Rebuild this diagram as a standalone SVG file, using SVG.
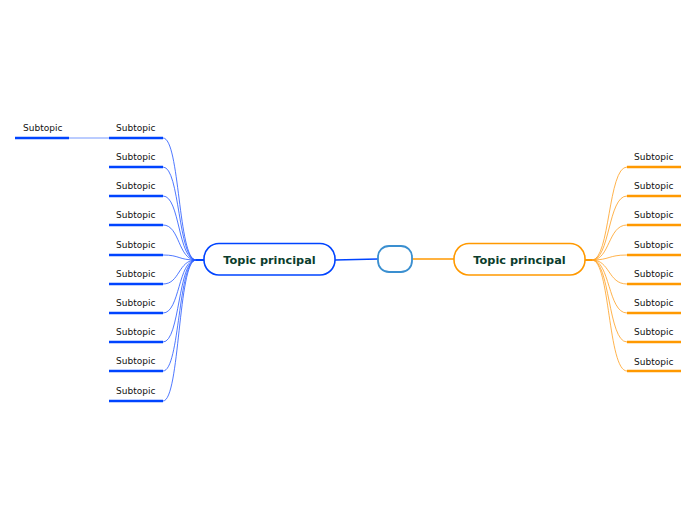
<svg xmlns="http://www.w3.org/2000/svg" width="696" height="520" viewBox="0 0 696 520">
<style>
.sub{font-family:"DejaVu Sans",sans-serif;font-size:9px;fill:#111}
.main{font-family:"DejaVu Sans",sans-serif;font-size:11.3px;font-weight:bold;fill:#0b3d2c}
.ub{stroke:#0044ff;stroke-width:2.5;fill:none}
.uo{stroke:#ff9900;stroke-width:2.5;fill:none}
.cb{stroke:#2255ff;stroke-width:0.8;fill:none}
.co{stroke:#ffa020;stroke-width:0.8;fill:none}
</style>
<rect width="696" height="520" fill="#fff"/>
<g id="connectors">
<path class="cb" d="M163,138 C180,138 178,260 196,260"/>
<path class="cb" d="M163,167 C180,167 178,260 196,260"/>
<path class="cb" d="M163,196 C180,196 178,260 196,260"/>
<path class="cb" d="M163,225 C180,225 178,260 196,260"/>
<path class="cb" d="M163,255 C180,255 178,260 196,260"/>
<path class="cb" d="M163,284 C180,284 178,260 196,260"/>
<path class="cb" d="M163,313 C180,313 178,260 196,260"/>
<path class="cb" d="M163,342 C180,342 178,260 196,260"/>
<path class="cb" d="M163,371 C180,371 178,260 196,260"/>
<path class="cb" d="M163,401 C180,401 178,260 196,260"/>
<path d="M196,260 L204,260" stroke="#0044ff" stroke-width="2"/>
<path d="M69,138 L109,138" stroke="#7799ff" stroke-width="1"/>
<path d="M335,260 L378,259" stroke="#0044ff" stroke-width="1.5"/>
<path d="M412,259 L454,259" stroke="#ff9900" stroke-width="1.5"/>
<path d="M585,260 L592,260" stroke="#ff9900" stroke-width="2"/>
<path class="co" d="M592,260 C610,260 608,167 627,167"/>
<path class="co" d="M592,260 C610,260 608,196 627,196"/>
<path class="co" d="M592,260 C610,260 608,225 627,225"/>
<path class="co" d="M592,260 C610,260 608,255 627,255"/>
<path class="co" d="M592,260 C610,260 608,284 627,284"/>
<path class="co" d="M592,260 C610,260 608,313 627,313"/>
<path class="co" d="M592,260 C610,260 608,342 627,342"/>
<path class="co" d="M592,260 C610,260 608,371 627,371"/>
</g>
<g id="center">
<rect x="378" y="246" width="34" height="26" rx="11" fill="#fff" stroke="#3a8fd0" stroke-width="1.8"/>
</g>
<g id="main-left">
<rect x="204" y="243.5" width="131" height="31.5" rx="15" fill="#fff" stroke="#0044ff" stroke-width="1.6"/>
<text class="main" x="269.5" y="264" text-anchor="middle">Topic principal</text>
</g>
<g id="main-right">
<rect x="454" y="243.5" width="131" height="31.5" rx="15" fill="#fff" stroke="#ff9900" stroke-width="1.6"/>
<text class="main" x="519.5" y="264" text-anchor="middle">Topic principal</text>
</g>
<g id="sub-far-left"><text class="sub" x="23" y="131">Subtopic</text><path class="ub" d="M15,138 H69"/></g>
<g id="sub-l1"><text class="sub" x="116" y="131">Subtopic</text><path class="ub" d="M109,138 H163"/></g>
<g id="sub-l2"><text class="sub" x="116" y="160">Subtopic</text><path class="ub" d="M109,167 H163"/></g>
<g id="sub-l3"><text class="sub" x="116" y="189">Subtopic</text><path class="ub" d="M109,196 H163"/></g>
<g id="sub-l4"><text class="sub" x="116" y="218">Subtopic</text><path class="ub" d="M109,225 H163"/></g>
<g id="sub-l5"><text class="sub" x="116" y="248">Subtopic</text><path class="ub" d="M109,255 H163"/></g>
<g id="sub-l6"><text class="sub" x="116" y="277">Subtopic</text><path class="ub" d="M109,284 H163"/></g>
<g id="sub-l7"><text class="sub" x="116" y="306">Subtopic</text><path class="ub" d="M109,313 H163"/></g>
<g id="sub-l8"><text class="sub" x="116" y="335">Subtopic</text><path class="ub" d="M109,342 H163"/></g>
<g id="sub-l9"><text class="sub" x="116" y="364">Subtopic</text><path class="ub" d="M109,371 H163"/></g>
<g id="sub-l10"><text class="sub" x="116" y="394">Subtopic</text><path class="ub" d="M109,401 H163"/></g>
<g id="sub-r1"><text class="sub" x="634" y="160">Subtopic</text><path class="uo" d="M627,167 H681"/></g>
<g id="sub-r2"><text class="sub" x="634" y="189">Subtopic</text><path class="uo" d="M627,196 H681"/></g>
<g id="sub-r3"><text class="sub" x="634" y="218">Subtopic</text><path class="uo" d="M627,225 H681"/></g>
<g id="sub-r4"><text class="sub" x="634" y="248">Subtopic</text><path class="uo" d="M627,255 H681"/></g>
<g id="sub-r5"><text class="sub" x="634" y="277">Subtopic</text><path class="uo" d="M627,284 H681"/></g>
<g id="sub-r6"><text class="sub" x="634" y="306">Subtopic</text><path class="uo" d="M627,313 H681"/></g>
<g id="sub-r7"><text class="sub" x="634" y="335">Subtopic</text><path class="uo" d="M627,342 H681"/></g>
<g id="sub-r8"><text class="sub" x="634" y="365">Subtopic</text><path class="uo" d="M627,371 H681"/></g>
</svg>
